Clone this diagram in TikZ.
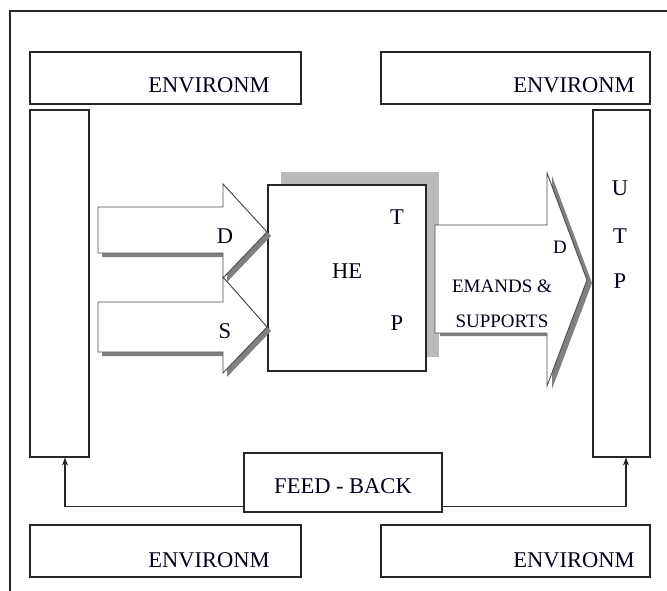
\documentclass[tikz,border=0pt]{standalone}
\usepackage{fontspec}
\setmainfont{Liberation Serif}
\usetikzlibrary{arrows.meta}
\begin{document}
\begin{tikzpicture}[x=1pt,y=-1pt,
  box/.style={draw=black!85, line width=1.1pt, fill=white, inner sep=0pt},
  bigtxt/.style={font=\fontsize{22.5}{25}\selectfont, anchor=base, inner sep=0pt, text=black!90!blue},
  smalltxt/.style={font=\fontsize{19}{22}\selectfont, anchor=base, inner sep=0pt, text=black!90!blue},
  arrowbody/.style={draw=black!70, line width=0.9pt, fill=white, line join=miter},
  arrowshade/.style={fill=black!50, draw=none},
  fbline/.style={draw=black!85, line width=1.2pt, -{Stealth[length=8pt,width=6pt]}},
]
\useasboundingbox (0,0) rectangle (667,591);
% outer frame (partly cropped)
\draw[line width=1.1pt, black!85] (10,591) -- (10,11) -- (667,11);

% environment boxes
\node[box, minimum width=271pt, minimum height=52pt] (envTL) at (165.5,78) {};
\node[box, minimum width=269pt, minimum height=52pt] (envTR) at (515.5,78) {};
\node[box, minimum width=271pt, minimum height=52pt] (envBL) at (165.5,551) {};
\node[box, minimum width=269pt, minimum height=52pt] (envBR) at (515.5,551) {};
\node[bigtxt] (tTL) at (209,93) {ENVIRONM};
\node[bigtxt] (tTR) at (574,93) {ENVIRONM};
\node[bigtxt] (tBL) at (209,567) {ENVIRONM};
\node[bigtxt] (tBR) at (574,567) {ENVIRONM};

% side boxes
\node[box, minimum width=59pt, minimum height=347pt] (sideL) at (59.5,283.5) {};
\node[box, minimum width=57pt, minimum height=347pt] (sideR) at (621.5,283.5) {};
\node[bigtxt] (u1) at (620,196) {U};
\node[bigtxt] (u2) at (620,243) {T};
\node[bigtxt] (u3) at (620,288) {P};

% central box with shadow
\fill[black!27] (281,172) rectangle (439,357);
\node[box, minimum width=158pt, minimum height=186pt] (he) at (347,278) {};
\node[bigtxt] (heT) at (397,225) {T};
\node[bigtxt] (heHE) at (347,278) {HE};
\node[bigtxt] (heP) at (397,330) {P};

% right arrow (demands & supports)
\fill[arrowshade, shift={(5,3)}] (435,225) -- (547,225) -- (547,173) -- (587,280) -- (547,386) -- (547,333) -- (435,333) -- cycle;
\draw[arrowbody] (435,225) -- (547,225) -- (547,173) -- (587,280) -- (547,386) -- (547,333) -- (435,333) -- cycle;
\node[smalltxt] (rD) at (560,253) {D};
\node[smalltxt] (rE) at (502,292) {EMANDS \&};
\node[smalltxt] (rS) at (502,327) {SUPPORTS};

% left arrows
\fill[arrowshade, shift={(4,4)}] (98,207) -- (223,207) -- (223,184) -- (267,232) -- (223,278) -- (223,253) -- (98,253) -- cycle;
\draw[arrowbody] (98,207) -- (223,207) -- (223,184) -- (267,232) -- (223,278) -- (223,253) -- (98,253) -- cycle;
\fill[arrowshade, shift={(4,4)}] (98,302) -- (223,302) -- (223,277) -- (267,327) -- (223,373) -- (223,352) -- (98,352) -- cycle;
\draw[arrowbody] (98,302) -- (223,302) -- (223,277) -- (267,327) -- (223,373) -- (223,352) -- (98,352) -- cycle;
\node[bigtxt] (lD) at (225,243) {D};
\node[bigtxt] (lS) at (225,338) {S};

% feedback
\node[box, minimum width=198pt, minimum height=59pt] (fb) at (343,482.5) {};
\node[bigtxt] (fbt) at (343,493) {FEED - BACK};
\draw[fbline] ([yshift=6pt]fb.south west) -| ([xshift=5.5pt]sideL.south);
\draw[fbline] ([yshift=6pt]fb.south east) -| ([xshift=4.5pt]sideR.south);
\end{tikzpicture}
\end{document}
